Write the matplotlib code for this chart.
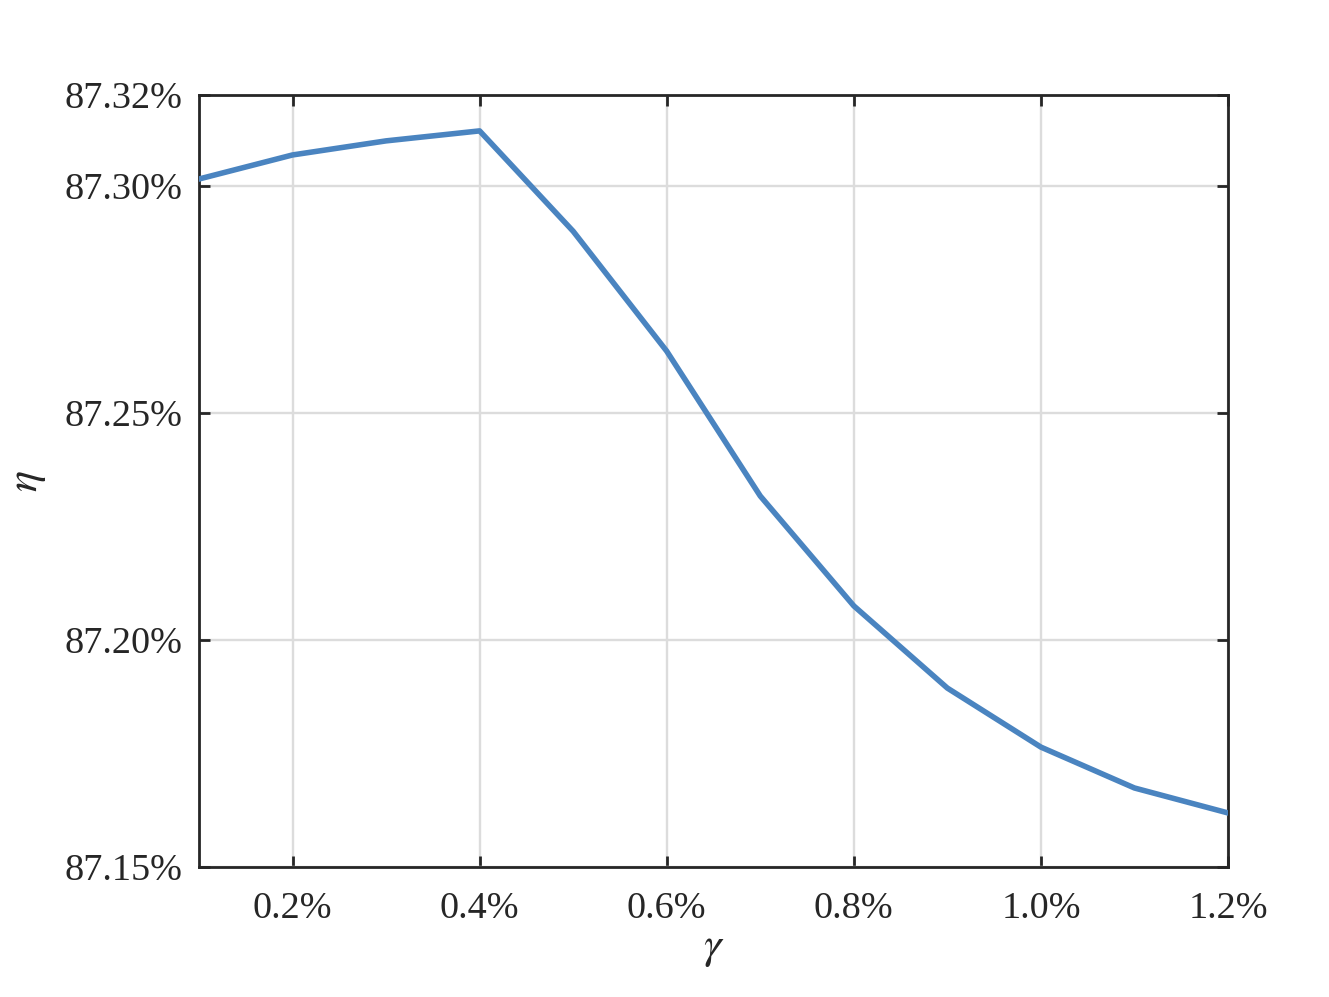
import numpy as np
import matplotlib.pyplot as plt
from matplotlib.ticker import FuncFormatter

gamma = [0.1, 0.2, 0.3, 0.4, 0.5, 0.6, 0.7, 0.8, 0.9, 1.0, 1.1, 1.2]
eta = [87.3015, 87.3068, 87.3099, 87.3121, 87.2900, 87.2636,
       87.2317, 87.2075, 87.1894, 87.1764, 87.1674, 87.1619]

x_ticks = [0.2, 0.4, 0.6, 0.8, 1.0, 1.2]
y_ticks = [87.15, 87.20, 87.25, 87.30, 87.32]

plt.rcParams['font.family'] = ['Liberation Serif', 'DejaVu Serif']
plt.rcParams['mathtext.fontset'] = 'stix'

fig = plt.figure(figsize=(13.29, 9.97), dpi=100)
ax = fig.add_axes([0.1497, 0.1304, 0.7743, 0.7743])

ax.plot(gamma, eta, color='#4a84c0', lw=4, zorder=3)

ax.set_xlim(0.1, 1.2)
ax.set_ylim(87.15, 87.32)
ax.set_xticks(x_ticks)
ax.set_yticks(y_ticks)
ax.xaxis.set_major_formatter(FuncFormatter(lambda v, p: f'{v:.1f}%'))
ax.yaxis.set_major_formatter(FuncFormatter(lambda v, p: f'{v:.2f}%'))
ax.grid(True, color='#dcdcdc', lw=1.7)
ax.set_axisbelow(True)
ax.tick_params(direction='in', length=8, width=2, colors='#262626',
               labelsize=27.5, top=True, right=True)
ax.tick_params(axis='x', pad=18)
ax.tick_params(axis='y', pad=12)
for s in ax.spines.values():
    s.set_linewidth(2)
    s.set_color('#262626')

ax.set_xlabel(r'$\gamma$', fontsize=32, color='#262626', labelpad=2)
ax.set_ylabel(r'$\eta$', fontsize=32, color='#262626', labelpad=12)

fig.savefig('out.png', dpi=100)
